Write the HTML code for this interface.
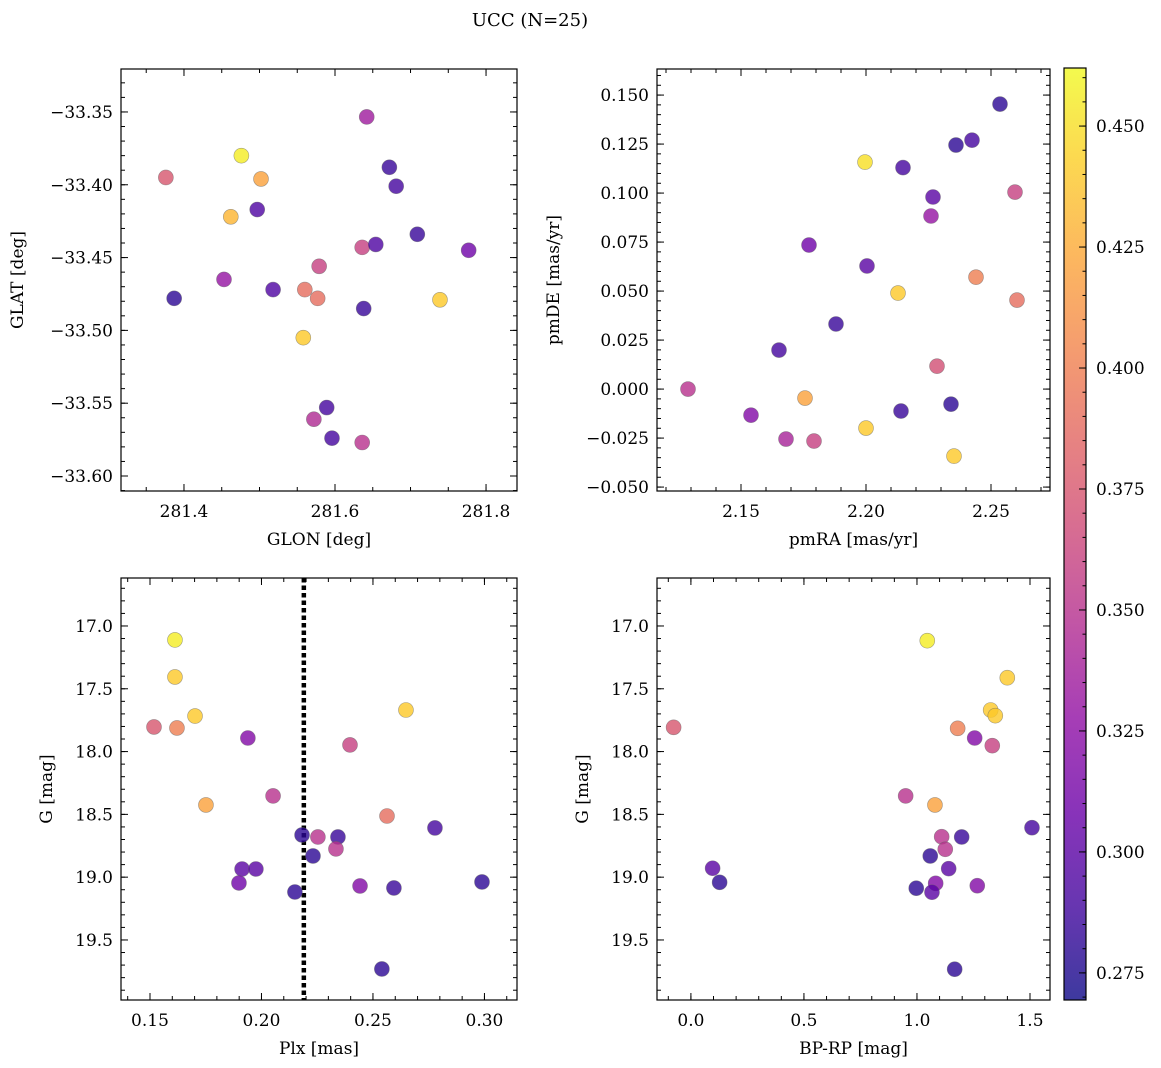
<!DOCTYPE html>
<html><head><meta charset="utf-8"><style>
html,body{margin:0;padding:0;background:#fff;}
svg{display:block;font-family:"DejaVu Serif","Liberation Serif",serif;}
</style></head><body>
<svg id="fig" width="1161" height="1068" viewBox="0 0 1161 1068" xmlns="http://www.w3.org/2000/svg">
<text x="530" y="26" font-size="18" text-anchor="middle">UCC (N=25)</text>
</svg>
<script>
// ---- data ----
const tlGlon=[281.642,281.476,281.376,281.502,281.672,281.681,281.497,281.462,281.709,281.777,281.636,281.654,281.579,281.453,281.560,281.518,281.577,281.387,281.638,281.558,281.739,281.589,281.572,281.596,281.636];
const tlGlat=[-33.3534,-33.380,-33.395,-33.396,-33.388,-33.401,-33.417,-33.422,-33.434,-33.445,-33.443,-33.441,-33.456,-33.465,-33.472,-33.472,-33.478,-33.478,-33.485,-33.505,-33.479,-33.553,-33.561,-33.574,-33.577];
const tlColor=[0.335,0.456,0.375,0.42,0.285,0.29,0.295,0.43,0.285,0.31,0.36,0.295,0.36,0.33,0.39,0.295,0.39,0.28,0.285,0.44,0.44,0.29,0.345,0.29,0.35];
const trPmra=[2.2536,2.1996,2.236,2.2424,2.2148,2.2268,2.2596,2.226,2.1772,2.2004,2.244,2.2128,2.2604,2.188,2.1652,2.2284,2.1288,2.1756,2.154,2.234,2.214,2.168,2.1792,2.20,2.2352];
const trPmde=[0.1454,0.1158,0.1245,0.127,0.113,0.098,0.1005,0.0883,0.0735,0.0628,0.0571,0.049,0.0454,0.0332,0.0199,0.0117,0.0,-0.0046,-0.0133,-0.0077,-0.0112,-0.0255,-0.0265,-0.0199,-0.0342];
const trColor=[0.28,0.45,0.28,0.29,0.29,0.3,0.36,0.33,0.31,0.3,0.4,0.44,0.39,0.285,0.29,0.37,0.35,0.42,0.32,0.28,0.285,0.34,0.36,0.44,0.44];
const blPlx=[0.1612,0.1612,0.1702,0.1518,0.1621,0.1939,0.2648,0.2397,0.1751,0.2052,0.2182,0.2563,0.2253,0.2343,0.2334,0.2778,0.2231,0.1913,0.1975,0.1899,0.2442,0.215,0.2594,0.2989,0.254];
const blG=[17.111,17.406,17.717,17.804,17.812,17.892,17.669,17.947,18.425,18.353,18.664,18.513,18.68,18.68,18.775,18.608,18.831,18.935,18.935,19.046,19.07,19.118,19.086,19.038,19.731];
const blColor=[0.456,0.44,0.44,0.375,0.4,0.32,0.44,0.36,0.42,0.35,0.28,0.39,0.35,0.285,0.35,0.29,0.28,0.3,0.3,0.31,0.32,0.28,0.285,0.28,0.28];
const plxLine=0.219;
const brBprp=[1.0456,1.3996,1.326,1.3465,-0.0765,1.18,1.2553,1.3332,0.95,1.0796,1.5088,1.1093,1.1978,1.1252,1.0588,1.1403,0.096,0.127,1.0827,0.9969,1.0664,1.2668,1.1668];
const brG=[17.117,17.412,17.669,17.714,17.807,17.815,17.892,17.953,18.353,18.425,18.606,18.678,18.68,18.778,18.831,18.932,18.929,19.041,19.049,19.088,19.12,19.068,19.733];
const brColor=[0.456,0.44,0.44,0.44,0.375,0.4,0.32,0.36,0.35,0.42,0.29,0.35,0.285,0.35,0.28,0.3,0.3,0.28,0.32,0.28,0.3,0.32,0.28];
const cbTicks=[0.275,0.300,0.325,0.350,0.375,0.400,0.425,0.450];

const NS="http://www.w3.org/2000/svg";
const svg=document.getElementById('fig');
function mk(tag,attrs,parent){const e=document.createElementNS(NS,tag);for(const k in attrs)e.setAttribute(k,attrs[k]);(parent||svg).appendChild(e);return e;}
const stops=[[0,13,8,135],[0.1,65,4,157],[0.2,106,0,168],[0.3,143,13,164],[0.4,177,42,144],[0.5,204,71,120],[0.6,225,100,98],[0.7,242,132,75],[0.8,252,166,54],[0.9,252,206,37],[1,240,249,33]];
function plasma(t){t=Math.max(0,Math.min(1,t));for(let i=1;i<stops.length;i++){if(t<=stops[i][0]){const a=stops[i-1],b=stops[i];const f=(t-a[0])/(b[0]-a[0]);return `rgb(${Math.round(a[1]+f*(b[1]-a[1]))},${Math.round(a[2]+f*(b[2]-a[2]))},${Math.round(a[3]+f*(b[3]-a[3]))})`;}}return 'rgb(240,249,33)';}
const cmin=0.2694,cmax=0.462;
function cval(v){return plasma((v-cmin)/(cmax-cmin));}
function fmt(v,d){const s=Math.abs(v).toFixed(d);return (v< -1e-9?'\u2212':'')+s;}

function panel(o){
  const g=mk('g',{});
  
  
  const sx=v=>o.x0+(v-o.xd[0])/(o.xd[1]-o.xd[0])*(o.x1-o.x0);
  const sy=o.invert?(v=>o.y0+(v-o.yd[0])/(o.yd[1]-o.yd[0])*(o.y1-o.y0)):(v=>o.y1-(v-o.yd[0])/(o.yd[1]-o.yd[0])*(o.y1-o.y0));
  const tg=mk('g',{stroke:'#000','stroke-width':1},g);
  function ticks(step,dec,isMajor,axis){
    const d=axis==='x'?o.xd:o.yd;const len=isMajor?7:4;
    const start=Math.ceil(d[0]/step-1e-6);
    for(let k=start;k*step<=d[1]+1e-9;k++){const v=k*step;
      if(axis==='x'){const X=sx(v);mk('line',{x1:X,x2:X,y1:o.y1,y2:o.y1-len},tg);mk('line',{x1:X,x2:X,y1:o.y0,y2:o.y0+len},tg);
        if(isMajor){const t=mk('text',{x:X,y:o.y1+26,'font-size':17,'text-anchor':'middle',stroke:'none'},g);t.textContent=fmt(v,dec);}}
      else{const Y=sy(v);mk('line',{y1:Y,y2:Y,x1:o.x0,x2:o.x0+len},tg);mk('line',{y1:Y,y2:Y,x1:o.x1,x2:o.x1-len},tg);
        if(isMajor){const t=mk('text',{x:o.x0-8,y:Y+6,'font-size':17,'text-anchor':'end',stroke:'none'},g);t.textContent=fmt(v,dec);}}
    }}
  ticks(o.xmin,o.xdec,false,'x');ticks(o.xmaj,o.xdec,true,'x');
  ticks(o.ymin,o.ydec,false,'y');ticks(o.ymaj,o.ydec,true,'y');
  if(o.vline!==undefined){const l=mk('line',{x1:sx(o.vline),x2:sx(o.vline),y1:o.y0,y2:o.y1,stroke:'#000','stroke-width':4.5,'stroke-dasharray':'4.5 3'},g);
    
    }
  for(let i=0;i<o.xs.length;i++){
    const c=mk('circle',{cx:sx(o.xs[i]),cy:sy(o.ys[i]),r:7.5,fill:cval(o.cs[i]),'fill-opacity':0.8,stroke:'#666','stroke-opacity':0.6,'stroke-width':0.6},g);
    
    
  }
  const fr=mk('rect',{x:o.x0,y:o.y0,width:o.x1-o.x0,height:o.y1-o.y0,fill:'none',stroke:'#000','stroke-width':1.2},g);
  
  
  const xl=mk('text',{x:(o.x0+o.x1)/2,y:o.y1+54,'font-size':17,'text-anchor':'middle'},g);xl.textContent=o.xlabel;
  
  
  const yc=(o.y0+o.y1)/2;
  const yl=mk('text',{x:o.ylx,y:yc,'font-size':17,'text-anchor':'middle',transform:`rotate(-90 ${o.ylx} ${yc})`},g);yl.textContent=o.ylabel;
  
  
}
panel({name:'glon-glat-panel',x0:121,x1:517,y0:69,y1:491,xd:[281.3166,281.841],yd:[-33.6103,-33.3205],xmaj:0.2,xmin:0.05,xdec:1,ymaj:0.05,ymin:0.01,ydec:2,xs:tlGlon,ys:tlGlat,cs:tlColor,xlabel:'GLON [deg]',ylabel:'GLAT [deg]',ylx:23});
panel({name:'pm-panel',x0:657,x1:1050,y0:69,y1:491,xd:[2.1164,2.2736],yd:[-0.052,0.1633],xmaj:0.05,xmin:0.01,xdec:2,ymaj:0.025,ymin:0.005,ydec:3,xs:trPmra,ys:trPmde,cs:trColor,xlabel:'pmRA [mas/yr]',ylabel:'pmDE [mas/yr]',ylx:559});
panel({name:'plx-g-panel',x0:121,x1:517,y0:578,y1:1000,xd:[0.137,0.3146],yd:[16.618,19.978],xmaj:0.05,xmin:0.01,xdec:2,ymaj:0.5,ymin:0.1,ydec:1,xs:blPlx,ys:blG,cs:blColor,xlabel:'Plx [mas]',ylabel:'G [mag]',ylx:52,vline:plxLine,invert:true});
panel({name:'cmd-panel',x0:657,x1:1050,y0:578,y1:1000,xd:[-0.150,1.5885],yd:[16.618,19.978],xmaj:0.5,xmin:0.1,xdec:1,ymaj:0.5,ymin:0.1,ydec:1,xs:brBprp,ys:brG,cs:brColor,xlabel:'BP-RP [mag]',ylabel:'G [mag]',ylx:588,invert:true});

// colorbar
const cb=mk('g',{});


const defs=mk('defs',{},cb);
const lg=mk('linearGradient',{id:'cbg',x1:0,y1:1,x2:0,y2:0},defs);
for(let i=0;i<=20;i++){mk('stop',{offset:i/20,'stop-color':plasma(i/20),'stop-opacity':0.8},lg);}
const cy0=68,cy1=1000,cx0=1064,cx1=1086;
mk('rect',{x:cx0,y:cy0,width:cx1-cx0,height:cy1-cy0,fill:'url(#cbg)'},cb);
const cys=v=>cy1-(v-cmin)/(cmax-cmin)*(cy1-cy0);
for(let k=Math.ceil(cmin/0.005);k*0.005<=cmax;k++){const Y=cys(k*0.005);mk('line',{x1:cx1,x2:cx1-3.5,y1:Y,y2:Y,stroke:'#000'},cb);}
cbTicks.forEach(v=>{const Y=cys(v);mk('line',{x1:cx1,x2:cx1-7,y1:Y,y2:Y,stroke:'#000'},cb);
  const t=mk('text',{x:cx1+10,y:Y+6,'font-size':17},cb);t.textContent=v.toFixed(3);
  
  });
mk('rect',{x:cx0,y:cy0,width:cx1-cx0,height:cy1-cy0,fill:'none',stroke:'#000','stroke-width':1.2},cb);
</script>
</body></html>
